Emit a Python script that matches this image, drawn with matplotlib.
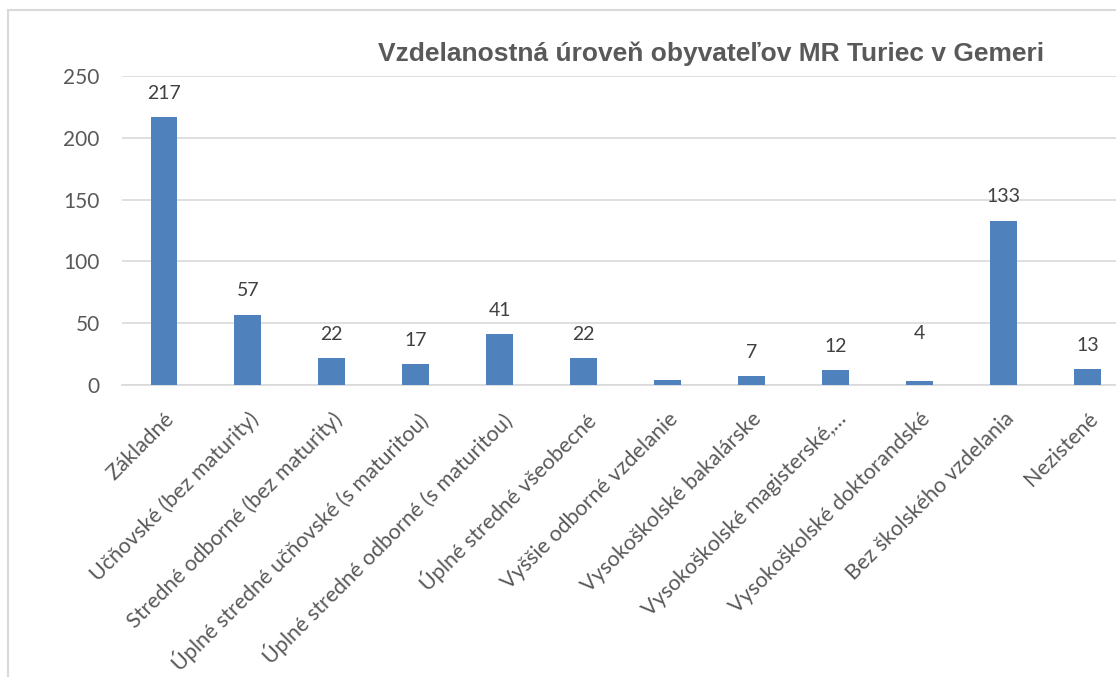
import matplotlib.pyplot as plt
from matplotlib.patches import Rectangle

# Data
categories = [
    "Základné",
    "Učňovské (bez maturity)",
    "Stredné odborné (bez maturity)",
    "Úplné stredné učňovské (s maturitou)",
    "Úplné stredné odborné (s maturitou)",
    "Úplné stredné všeobecné",
    "Vyššie odborné vzdelanie",
    "Vysokoškolské bakalárske",
    "Vysokoškolské magisterské,…",
    "Vysokoškolské doktorandské",
    "Bez školského vzdelania",
    "Nezistené",
]
values = [217, 57, 22, 17, 41, 22, 4, 7, 12, 3, 133, 13]
value_labels = ["217", "57", "22", "17", "41", "22", "", "7", "12", "4", "133", "13"]
# extra lift (points) for labels that were moved by hand in the original
label_lift = [0, 0, 0, 0, 0, 0, 0, 0, 0, 17, 0, 0]
y_ticks = [0, 50, 100, 150, 200, 250]

bar_color = "#4F81BD"
font = ["Lato", "DejaVu Sans"]

fig = plt.figure(figsize=(11.16, 6.77), dpi=100)
ax = fig.add_axes([0.1093, 0.4313, 0.9028, 0.4564])

x = list(range(len(categories)))
ax.bar(x, values, width=0.32, color=bar_color, zorder=3)

for xi, v, lab, lift in zip(x, values, value_labels, label_lift):
    if lab:
        ax.annotate(lab, (xi, v), xytext=(0, 11 + lift), textcoords="offset points",
                    ha="center", va="bottom", fontsize=14, color="#404040", family=font)

ax.set_xlim(-0.5, len(categories) - 0.5)
ax.set_ylim(0, 250)
ax.set_yticks(y_ticks)
ax.set_yticklabels([str(t) for t in y_ticks], family=font, fontsize=15, color="#595959")
ax.set_xticks(x)
ax.set_xticklabels(categories, rotation=45, ha="right", rotation_mode="anchor",
                   family=font, fontsize=15.5, color="#595959")
ax.tick_params(axis="both", length=0)
ax.tick_params(axis="x", pad=17)
ax.tick_params(axis="y", pad=16)
ax.grid(axis="y", color="#d9d9d9", linewidth=1.2, zorder=0)
for side in ["top", "right", "left"]:
    ax.spines[side].set_visible(False)
ax.spines["bottom"].set_color("#d9d9d9")
ax.spines["bottom"].set_linewidth(1.2)

fig.text(0.637, 0.921, "Vzdelanostná úroveň obyvateľov MR Turiec v Gemeri",
         ha="center", va="center", fontsize=19, fontweight="bold", color="#595959",
         family=["Liberation Sans", "DejaVu Sans"])

# chart border (right and bottom are cropped in the original)
fig.patches.append(Rectangle((0.0072, -0.05), 1.05, 1.035, transform=fig.transFigure,
                             fill=False, edgecolor="#d9d9d9", linewidth=1.5))

fig.savefig("out.png", dpi=100)
